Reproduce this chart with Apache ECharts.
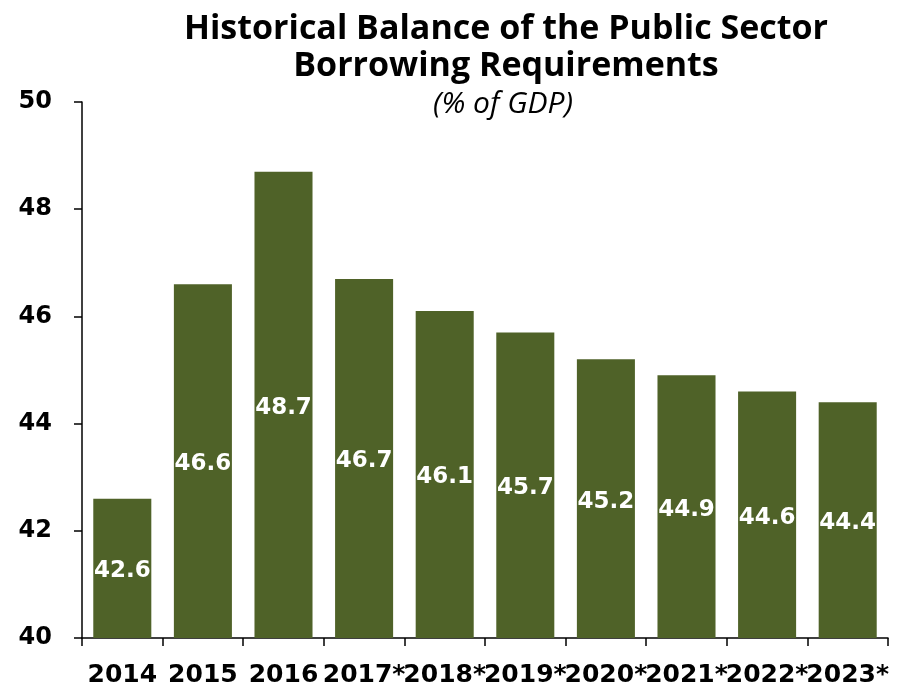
<!DOCTYPE html>
<html><head><meta charset="utf-8">
<script src="https://cdn.jsdelivr.net/npm/echarts@6/dist/echarts.min.js"></script>
<style>html,body{margin:0;padding:0;background:#fff}#c{width:901px;height:688px}</style>
</head><body><div id="c"></div>
<script>
const categories = ['2014','2015','2016','2017*','2018*','2019*','2020*','2021*','2022*','2023*'];
const values = [42.6, 46.6, 48.7, 46.7, 46.1, 45.7, 45.2, 44.9, 44.6, 44.4];
const yTicks = [40, 42, 44, 46, 48, 50];

const chart = echarts.init(document.getElementById('c'));
chart.setOption({
  animation: false,
  title: [
    { text: 'Historical Balance of the Public Sector\nBorrowing Requirements', left: 501, top: 6, textAlign: 'center',
      textStyle: { fontFamily: 'Open Sans', fontWeight: 'bold', fontSize: 34, lineHeight: 37, color: '#000' } },
    { text: '(% of GDP)', left: 498, top: 84, textAlign: 'center',
      textStyle: { fontFamily: 'Open Sans', fontStyle: 'italic', fontWeight: 'normal', fontSize: 30, lineHeight: 30, color: '#000' } }
  ],
  grid: { left: 82, right: 13, top: 102, bottom: 50 },
  xAxis: {
    type: 'category', data: categories,
    axisLine: { lineStyle: { color: '#000', width: 1.5 } },
    axisTick: { show: true, inside: false, length: 8, lineStyle: { color: '#000', width: 1.5 } },
    axisLabel: { color: '#000', fontFamily: 'DejaVu Sans', fontWeight: 'bold', fontSize: 25, margin: 25, interval: 0 }
  },
  yAxis: {
    type: 'value', min: yTicks[0], max: yTicks[yTicks.length - 1], interval: 2,
    splitLine: { show: false },
    axisLine: { show: true, lineStyle: { color: '#000', width: 1.5 } },
    axisTick: { show: true, length: 8, lineStyle: { color: '#000', width: 1.5 } },
    axisLabel: { color: '#000', fontFamily: 'DejaVu Sans', fontWeight: 'bold', fontSize: 24, margin: 30 }
  },
  series: [{
    type: 'bar', data: values, barCategoryGap: '28%',
    itemStyle: { color: '#4f6228' },
    label: { show: true, position: 'inside', offset: [0, 3], color: '#fff', fontFamily: 'DejaVu Sans', fontWeight: 'bold', fontSize: 23,
      formatter: p => p.value.toFixed(1) }
  }]
});
</script></body></html>
